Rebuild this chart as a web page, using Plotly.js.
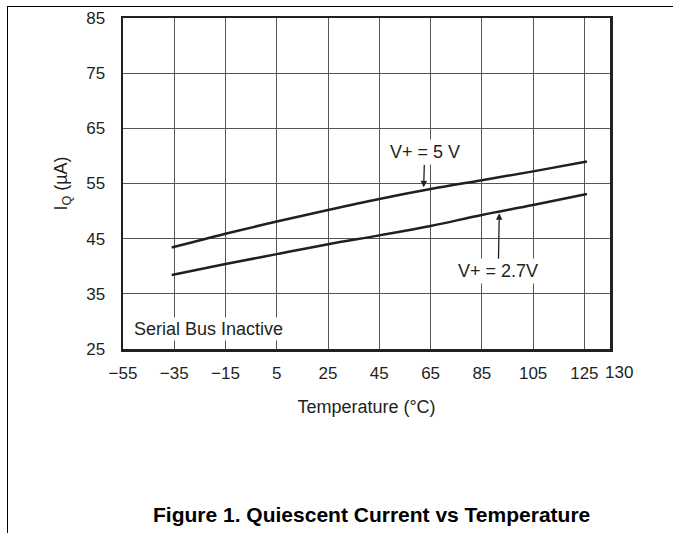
<!DOCTYPE html>
<html>
<head>
<meta charset="utf-8">
<script src="https://cdn.plot.ly/plotly-3.0.1.min.js"></script>
<style>
  html, body { margin: 0; padding: 0; background: #fff; }
  #wrap { position: relative; width: 673px; height: 533px; overflow: hidden; }
  #chart { width: 673px; height: 533px; }
  #frame { position: absolute; left: 7px; top: 6px; right: -2px; bottom: -2px;
           border-left: 1.5px solid #000; border-top: 1.5px solid #000; pointer-events: none; }
</style>
</head>
<body>
<div id="wrap">
  <div id="chart"></div>
  <div id="frame"></div>
</div>
<script>
// Temperature (°C)
const temperature = [-36, -15, 5, 25, 45, 65, 85, 105, 126];
// Quiescent current (µA)
const iq5V  = [43.4, 45.9, 48.1, 50.2, 52.2, 54.0, 55.6, 57.2, 59.0];
const iq27V = [38.4, 40.4, 42.2, 44.0, 45.6, 47.3, 49.3, 51.1, 53.1];

// x tick positions and labels (the last label, "130", sits at the right frame edge, offset as in the original)
const xTickVals = [-55, -35, -15, 5, 25, 45, 65, 85, 105, 125, 135];
const xTickText = ["\u221255", "\u221235", "\u221215", "5", "25", "45", "65", "85", "105", "125", "130"];
const yTickVals = [25, 35, 45, 55, 65, 75, 85];

const FONT = "Liberation Sans, Arial, Helvetica, sans-serif";
const INK = "#231f20";
const lineStyle = { color: INK, width: 2.5, shape: "spline", smoothing: 1 };

const lastIdx = xTickVals.length - 1;
const axisTickText = xTickText.map((t, i) => (i === lastIdx ? "" : t));

const traces = [
  { x: temperature, y: iq5V, mode: "lines", name: "V+ = 5 V", line: lineStyle, hoverinfo: "x+y" },
  { x: temperature, y: iq27V, mode: "lines", name: "V+ = 2.7V", line: lineStyle, hoverinfo: "x+y" }
];

const layout = {
  width: 673, height: 533,
  margin: { l: 123, r: 63, t: 18, b: 184 },
  paper_bgcolor: "#fff", plot_bgcolor: "#fff",
  showlegend: false,
  font: { family: FONT, size: 17, color: INK },
  xaxis: {
    range: [-55, 135], tickmode: "array", tickvals: xTickVals, ticktext: axisTickText,
    tickangle: 0,
    showgrid: true, gridcolor: "#555", gridwidth: 1, zeroline: false,
    showline: true, linecolor: INK, linewidth: 2.5, mirror: true,
    ticks: "", ticklabelstandoff: 7,
    tickfont: { family: FONT, size: 17, color: INK },
    title: { text: "Temperature (\u00b0C)", standoff: 19, font: { family: FONT, size: 18, color: INK } },
    fixedrange: true
  },
  yaxis: {
    range: [25, 85], tickmode: "array", tickvals: yTickVals,
    showgrid: true, gridcolor: "#555", gridwidth: 1, zeroline: false,
    showline: true, linecolor: INK, linewidth: 2.5, mirror: true,
    ticks: "", ticklabelstandoff: 12,
    tickfont: { family: FONT, size: 17, color: INK },
    title: { text: "I<sub>Q</sub> (\u00b5A)", standoff: 14, font: { family: FONT, size: 18, color: INK } },
    fixedrange: true
  },
  annotations: [
    { x: xTickVals[lastIdx], y: 0, xref: "x", yref: "paper", text: xTickText[lastIdx], showarrow: false,
      xanchor: "center", yanchor: "top", xshift: 9, yshift: -12,
      font: { family: FONT, size: 17, color: INK } },
    { x: 62.3, y: 54.3, xref: "x", yref: "y", text: "V+ = 5 V", showarrow: true,
      arrowhead: 2, arrowsize: 1, arrowwidth: 1.3, arrowcolor: INK,
      ax: 1, ay: -35, bgcolor: "#fff", borderpad: 2,
      font: { family: FONT, size: 18, color: INK } },
    { x: 91.8, y: 49.6, xref: "x", yref: "y", text: "V+ = 2.7V", showarrow: true,
      arrowhead: 2, arrowsize: 1, arrowwidth: 1.3, arrowcolor: INK,
      ax: -1, ay: 58, bgcolor: "#fff", borderpad: 2,
      font: { family: FONT, size: 18, color: INK } },
    { x: -51.5, y: 28.6, xref: "x", yref: "y", text: "Serial Bus Inactive", showarrow: false,
      xanchor: "left", yanchor: "middle", bgcolor: "#fff", borderpad: 1,
      font: { family: FONT, size: 18, color: INK } },
    { x: 0.51, y: -0.50, xref: "paper", yref: "paper", text: "<b>Figure 1. Quiescent Current vs Temperature</b>",
      showarrow: false, xanchor: "center", yanchor: "middle",
      font: { family: FONT, size: 21, color: "#000" } }
  ]
};

Plotly.newPlot("chart", traces, layout, { displayModeBar: false, staticPlot: true });
</script>
</body>
</html>
